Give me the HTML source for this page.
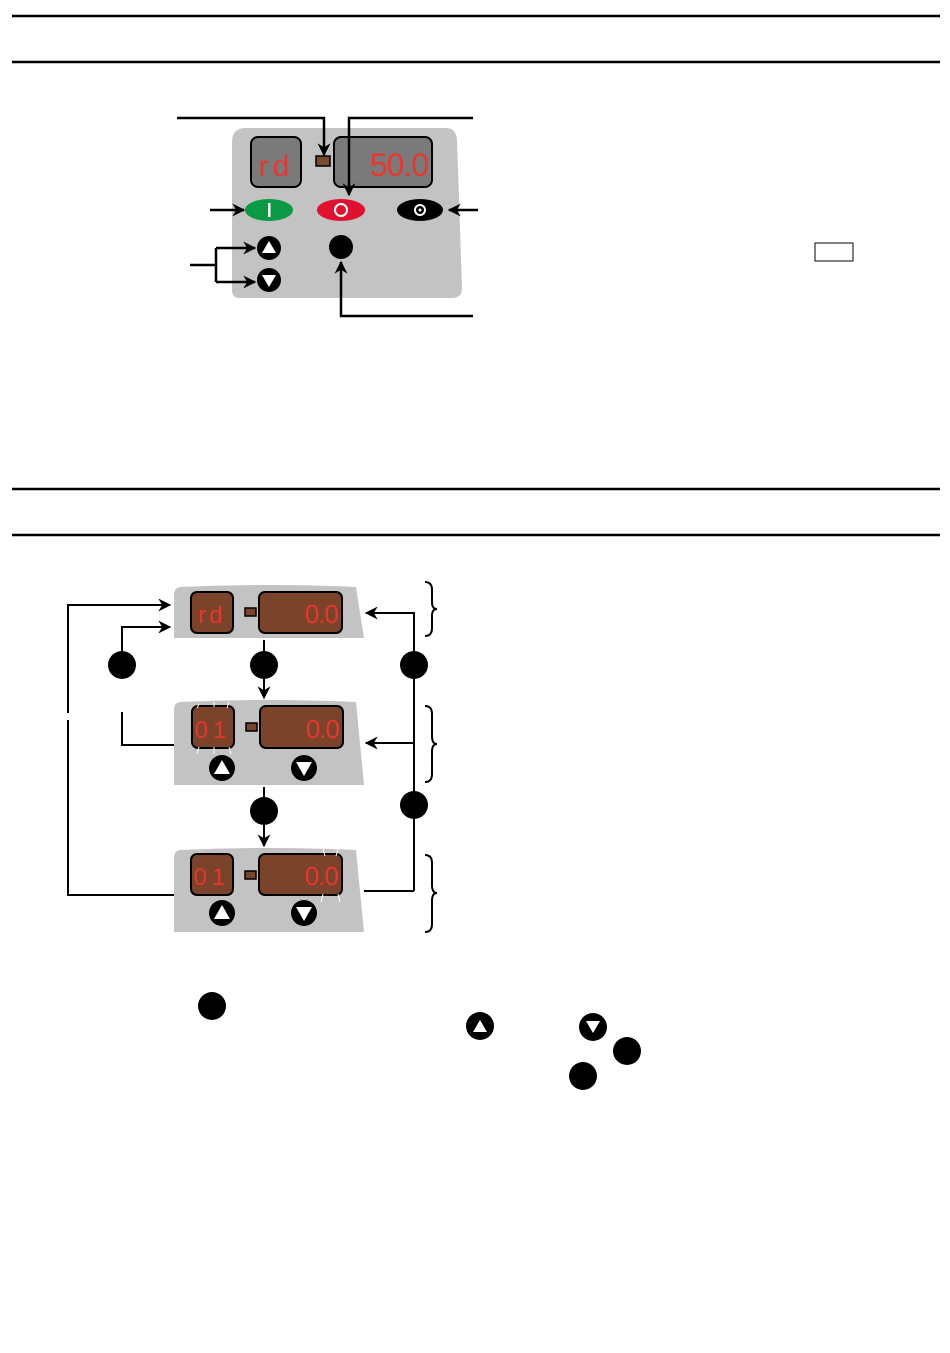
<!DOCTYPE html>
<html><head><meta charset="utf-8"><style>
html,body{margin:0;padding:0;background:#fff;}
svg{display:block;}
text{font-family:"Liberation Sans",sans-serif;fill:#e8362f;}
</style></head><body>
<svg width="950" height="1353" viewBox="0 0 950 1353" xmlns="http://www.w3.org/2000/svg">
<defs>
<marker id="ar" viewBox="0 0 10 10" refX="9" refY="5" markerWidth="13" markerHeight="13" orient="auto" markerUnits="userSpaceOnUse">
<path d="M0,0 L10,5 L0,10 L3,5 Z" fill="#000"/></marker>
</defs>
<g stroke="#000" stroke-width="2.5">
<line x1="12" y1="16" x2="940" y2="16"/><line x1="12" y1="62" x2="940" y2="62"/>
<line x1="12" y1="489" x2="940" y2="489"/><line x1="12" y1="535" x2="940" y2="535"/>
</g>
<path d="M246,128 L446,128 Q456,128 457,140 L462,288 Q462,298 452,298 L240,298 Q232,298 232,290 L232,142 Q232,128 246,128 Z" fill="#c3c3c3"/>
<rect x="251" y="137" width="50" height="50" rx="7" fill="#7a7a7a" stroke="#000" stroke-width="2"/>
<rect x="334" y="137" width="98" height="50" rx="7" fill="#7a7a7a" stroke="#000" stroke-width="2"/>
<text x="276" y="176" font-size="30" text-anchor="middle" letter-spacing="4">rd</text>
<text x="428" y="176" font-size="32" text-anchor="end" letter-spacing="-1">50.0</text>
<rect x="316" y="156" width="14" height="10" fill="#7a4a2e" stroke="#000" stroke-width="1.5"/>
<ellipse cx="269" cy="210" rx="24" ry="11" fill="#0a9a44"/>
<rect x="268" y="203" width="2.5" height="14" fill="#fff"/>
<ellipse cx="341" cy="210" rx="24" ry="11" fill="#e0112f"/>
<circle cx="341" cy="210" r="6" fill="none" stroke="#fff" stroke-width="2"/>
<ellipse cx="420" cy="210" rx="23" ry="11" fill="#000"/>
<circle cx="420" cy="210" r="5" fill="none" stroke="#fff" stroke-width="2"/>
<circle cx="420" cy="210" r="1.5" fill="#fff"/>
<circle cx="269" cy="248" r="12" fill="#000"/><path d="M262,253 L276,253 L269,241 Z" fill="#fff"/>
<circle cx="269" cy="280" r="12" fill="#000"/><path d="M262,275 L276,275 L269,287 Z" fill="#fff"/>
<circle cx="341" cy="247" r="12" fill="#000"/>
<g stroke="#000" stroke-width="2.5" fill="none">
<path d="M177,118 L324,118 L324,155" marker-end="url(#ar)"/>
<path d="M473,118 L349,118 L349,195" marker-end="url(#ar)"/>
<path d="M210,210 L244,210" marker-end="url(#ar)"/>
<path d="M478,210 L449,210" marker-end="url(#ar)"/>
<path d="M190,265 L216,265"/>
<path d="M216,248 L216,282"/>
<path d="M216,248 L255,248" marker-end="url(#ar)"/>
<path d="M216,282 L255,282" marker-end="url(#ar)"/>
<path d="M473,316 L341,316 L341,262" marker-end="url(#ar)"/>
</g>
<rect x="815" y="243" width="38" height="18" fill="#fff" stroke="#000" stroke-width="1"/>
<g fill="#c3c3c3">
<path d="M180,587 Q270,583 356,587 L364,638 L174,638 L174,595 Q174,588 180,587 Z"/>
<path d="M180,702 Q270,698 356,702 L364,785 L174,785 L174,710 Q174,703 180,702 Z"/>
<path d="M180,850 Q270,846 356,850 L364,932 L174,932 L174,858 Q174,851 180,850 Z"/>
</g>
<g fill="#7a432a" stroke="#000" stroke-width="2">
<rect x="191" y="592" width="42" height="41" rx="6"/><rect x="259" y="592" width="83" height="41" rx="6"/>
<rect x="192" y="706" width="42" height="42" rx="6"/><rect x="260" y="706" width="83" height="42" rx="6"/>
<rect x="191" y="854" width="42" height="41" rx="6"/><rect x="259" y="854" width="83" height="41" rx="6"/>
<rect x="245" y="608" width="11" height="8" stroke-width="1.5"/>
<rect x="246" y="723" width="11" height="8" stroke-width="1.5"/>
<rect x="245" y="871" width="11" height="8" stroke-width="1.5"/>
</g>
<text x="212" y="623" font-size="24" text-anchor="middle" letter-spacing="3">rd</text>
<text x="338" y="623" font-size="26" text-anchor="end" letter-spacing="-1">0.0</text>
<text x="213" y="738" font-size="24" text-anchor="middle" letter-spacing="5">01</text>
<text x="339" y="738" font-size="26" text-anchor="end" letter-spacing="-1">0.0</text>
<text x="212" y="885" font-size="24" text-anchor="middle" letter-spacing="5">01</text>
<text x="338" y="885" font-size="26" text-anchor="end" letter-spacing="-1">0.0</text>
<g stroke="#fff" stroke-width="1">
<line x1="199" y1="704" x2="197" y2="708"/><line x1="214" y1="702" x2="214" y2="707"/><line x1="229" y1="702" x2="227" y2="708"/>
<line x1="199" y1="747" x2="197" y2="754"/><line x1="214" y1="747" x2="214" y2="754"/><line x1="229" y1="747" x2="231" y2="754"/>
<line x1="323" y1="849" x2="325" y2="856"/><line x1="338" y1="849" x2="336" y2="856"/>
<line x1="323" y1="894" x2="321" y2="902"/><line x1="338" y1="894" x2="340" y2="902"/>
</g>
<g fill="#000">
<circle cx="222" cy="768" r="13"/><circle cx="304" cy="768" r="13"/>
<circle cx="222" cy="913" r="13"/><circle cx="304" cy="913" r="13"/>
</g>
<g fill="#fff">
<path d="M214,774 L230,774 L222,760 Z"/><path d="M296,762 L312,762 L304,776 Z"/>
<path d="M214,919 L230,919 L222,905 Z"/><path d="M296,907 L312,907 L304,921 Z"/>
</g>
<g stroke="#000" stroke-width="2" fill="none">
<path d="M68,713 L68,605 L170,605" marker-end="url(#ar)"/>
<path d="M68,720 L68,895 L174,895"/>
<path d="M122,652 L122,627 L170,627" marker-end="url(#ar)"/>
<path d="M122,712 L122,745 L174,745"/>
<path d="M264,640 L264,698" marker-end="url(#ar)"/>
<path d="M264,787 L264,846" marker-end="url(#ar)"/>
<path d="M414,891 L414,613 L366,613" marker-end="url(#ar)"/>
<path d="M414,743 L366,743" marker-end="url(#ar)"/>
<path d="M364,891 L414,891"/>
<path d="M425,582 Q432,582 432,590 L432,602 Q432,609 437,609 Q432,609 432,616 L432,628 Q432,636 425,636"/>
<path d="M425,706 Q432,706 432,714 L432,736 Q432,744 437,744 Q432,744 432,752 L432,774 Q432,782 425,782"/>
<path d="M425,855 Q432,855 432,863 L432,885 Q432,893 437,893 Q432,893 432,901 L432,924 Q432,932 425,932"/>
</g>
<g fill="#000">
<circle cx="122" cy="665" r="14"/><circle cx="264" cy="665" r="14"/><circle cx="414" cy="665" r="14"/>
<circle cx="264" cy="811" r="14"/><circle cx="414" cy="805" r="14"/>
<circle cx="212" cy="1006" r="14"/>
<circle cx="480" cy="1026" r="14"/><circle cx="593" cy="1027" r="14"/>
<circle cx="627" cy="1051" r="14"/><circle cx="583" cy="1076" r="14"/>
</g>
<path d="M473,1032 L487,1032 L480,1020 Z" fill="#fff"/>
<path d="M586,1021 L600,1021 L593,1033 Z" fill="#fff"/>
</svg>
</body></html>
